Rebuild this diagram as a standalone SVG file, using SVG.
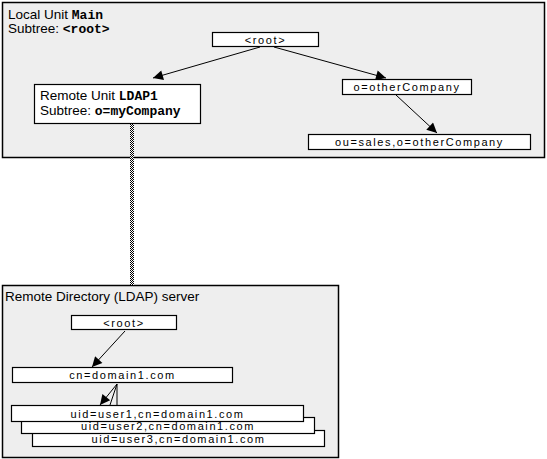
<svg xmlns="http://www.w3.org/2000/svg" width="547" height="459" viewBox="0 0 547 459">
<style>
.panel{fill:#eeeeee;stroke:#000;stroke-width:1.5}
.box{fill:#fff;stroke:#000;stroke-width:1.2}
.lbl{font-family:"Liberation Sans",Arial,sans-serif;font-size:13.5px;fill:#000}
.mono{font-family:"Liberation Mono","Courier New",monospace;font-weight:bold;font-size:13px}
.t{font-family:"Liberation Sans",Arial,sans-serif;font-size:11px;letter-spacing:1.6px;fill:#000;text-anchor:middle}
.edge{stroke:#000;stroke-width:1;fill:none}
</style>
<defs>
<marker id="ah" viewBox="0 0 10 10" refX="10" refY="5" markerWidth="12" markerHeight="10" markerUnits="userSpaceOnUse" orient="auto">
<path d="M0,0 L10,5 L0,10 z" fill="#000"/>
</marker>
<pattern id="chk" width="2" height="2" patternUnits="userSpaceOnUse">
<rect width="2" height="2" fill="#fff"/>
<rect width="1" height="1" fill="#000"/>
<rect x="1" y="1" width="1" height="1" fill="#000"/>
</pattern>
</defs>
<g id="local-unit">
<rect class="panel" x="2.5" y="2.5" width="542" height="155"/>
<text class="lbl" x="8" y="18.5">Local Unit <tspan class="mono">Main</tspan></text>
<text class="lbl" x="8" y="33">Subtree: <tspan class="mono">&lt;root&gt;</tspan></text>
</g>
<g id="remote-dir">
<rect class="panel" x="2.5" y="285.5" width="336" height="172"/>
<text class="lbl" x="5" y="301">Remote Directory (LDAP) server</text>
</g>
<g id="connectors">
<rect x="130" y="124" width="4" height="161" fill="url(#chk)"/>
<line class="edge" x1="260" y1="47" x2="153" y2="78" marker-end="url(#ah)"/>
<line class="edge" x1="274" y1="47" x2="386" y2="78" marker-end="url(#ah)"/>
<line class="edge" x1="396" y1="95" x2="437" y2="133" marker-end="url(#ah)"/>
<line class="edge" x1="125" y1="331" x2="92" y2="367" marker-end="url(#ah)"/>
<line class="edge" x1="117" y1="384" x2="100" y2="405" marker-end="url(#ah)"/>
<line class="edge" x1="117" y1="384" x2="110" y2="405"/>
<line class="edge" x1="117" y1="384" x2="117" y2="405"/>
</g>
<g id="root-top">
<rect class="box" x="212.5" y="32.5" width="106" height="14"/>
<text class="t" x="265.5" y="43.5">&lt;root&gt;</text>
</g>
<g id="remote-unit">
<rect class="box" x="34.5" y="84.5" width="166" height="39"/>
<text class="lbl" x="40" y="100">Remote Unit <tspan class="mono">LDAP1</tspan></text>
<text class="lbl" x="40" y="115">Subtree: <tspan class="mono">o=myCompany</tspan></text>
</g>
<g id="other-company">
<rect class="box" x="342.5" y="79.5" width="129" height="15"/>
<text class="t" x="407" y="91">o=otherCompany</text>
</g>
<g id="sales">
<rect class="box" x="308.5" y="134.5" width="222" height="15"/>
<text class="t" x="419.5" y="146">ou=sales,o=otherCompany</text>
</g>
<g id="root-bottom">
<rect class="box" x="71.5" y="315.5" width="105" height="14"/>
<text class="t" x="124" y="326.5">&lt;root&gt;</text>
</g>
<g id="domain">
<rect class="box" x="12.5" y="367.5" width="220" height="15"/>
<text class="t" x="122.5" y="379">cn=domain1.com</text>
</g>
<g id="user3">
<rect class="box" x="32.5" y="430.5" width="292" height="16"/>
<text class="t" x="178.5" y="442.5">uid=user3,cn=domain1.com</text>
</g>
<g id="user2">
<rect class="box" x="21.5" y="417.5" width="293" height="16"/>
<text class="t" x="168" y="429.5">uid=user2,cn=domain1.com</text>
</g>
<g id="user1">
<rect class="box" x="11.5" y="405.5" width="292" height="16"/>
<text class="t" x="157.5" y="417.5">uid=user1,cn=domain1.com</text>
</g>
</svg>
